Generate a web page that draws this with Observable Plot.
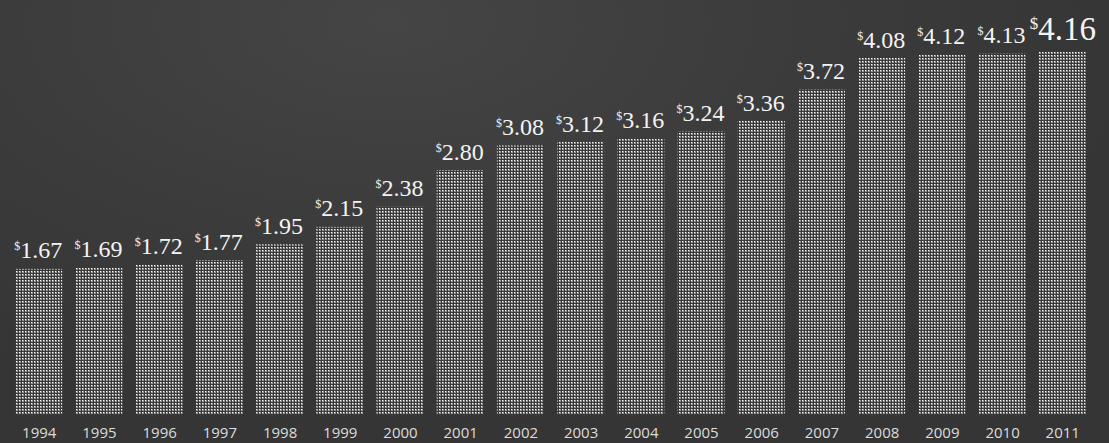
<!DOCTYPE html>
<html>
<head>
<meta charset="utf-8">
<script src="https://cdn.jsdelivr.net/npm/d3@7"></script>
<script src="https://cdn.jsdelivr.net/npm/@observablehq/plot@0.6"></script>
<style>
  html, body { margin: 0; padding: 0; }
  body { width: 1109px; height: 443px; overflow: hidden; background: #3a3a3a; }
  #chart { position: relative; width: 1109px; height: 443px;
    background: radial-gradient(ellipse 70% 90% at 35% 5%, #454545 0%, #3b3b3b 55%, #353535 100%); }
  #chart svg { position: absolute; left: 0; top: 0; }
</style>
</head>
<body>
<div id="chart"></div>
<script>
const years = ["1994","1995","1996","1997","1998","1999","2000","2001","2002","2003","2004","2005","2006","2007","2008","2009","2010","2011"];
const prices = [1.67,1.69,1.72,1.77,1.95,2.15,2.38,2.80,3.08,3.12,3.16,3.24,3.36,3.72,4.08,4.12,4.13,4.16];
const labels = ["1.67","1.69","1.72","1.77","1.95","2.15","2.38","2.80","3.08","3.12","3.16","3.24","3.36","3.72","4.08","4.12","4.13","4.16"];

const data = years.map((y, i) => ({year: y, price: prices[i], label: labels[i], last: i === years.length - 1}));

const plot = Plot.plot({
  width: 1109,
  height: 443,
  marginTop: 0,
  marginBottom: 28,
  marginLeft: 2,
  marginRight: 10,
  style: {background: "transparent", overflow: "visible"},
  x: {domain: years, padding: 0.22, round: false, label: null},
  y: {domain: [0, 4.743], axis: null},
  marks: [
    Plot.barY(data, {x: "year", y: "price", fill: "url(#dots)"}),
    Plot.text(data.filter(d => !d.last), {x: "year", y: "price", text: "label", dy: -11, dx: -1,
      fill: "#f4f4f4", fontFamily: "Liberation Serif", fontSize: 24,
      textAnchor: "middle", lineAnchor: "bottom"}),
    Plot.text(data.filter(d => d.last), {x: "year", y: "price", text: "label", dy: -12, dx: 0,
      fill: "#f4f4f4", fontFamily: "Liberation Serif", fontSize: 33,
      textAnchor: "middle", lineAnchor: "bottom"}),
    Plot.axisX({tickSize: 0, tickPadding: 12, fontSize: 15, fontFamily: "Open Sans", color: "#dcdcdc"})
  ]
});

const svg = d3.select(plot);
const defs = svg.insert("defs", ":first-child");
const pat = defs.append("pattern").attr("id", "dots").attr("width", 3).attr("height", 3)
  .attr("patternUnits", "userSpaceOnUse");
pat.append("rect").attr("width", 3).attr("height", 3).attr("fill", "#393939");
pat.append("rect").attr("x", 1).attr("y", 1).attr("width", 2).attr("height", 2).attr("fill", "#949494");
pat.append("rect").attr("x", 1).attr("y", 1).attr("width", 1).attr("height", 1).attr("fill", "#ffffff");

// superscript dollar sign before each value
svg.selectAll("g[aria-label='text']").each(function() {
  const g = d3.select(this);
  const fs = parseFloat(g.attr("font-size")) || 24;
  g.selectAll("text").each(function() {
    const t = d3.select(this);
    const txt = t.text();
    t.text(null);
    t.append("tspan").attr("font-size", Math.round(fs * 0.52)).attr("dy", -fs * 0.33).text("$");
    t.append("tspan").attr("dy", fs * 0.33).text(txt);
  });
});

document.getElementById("chart").appendChild(plot);
</script>
</body>
</html>
